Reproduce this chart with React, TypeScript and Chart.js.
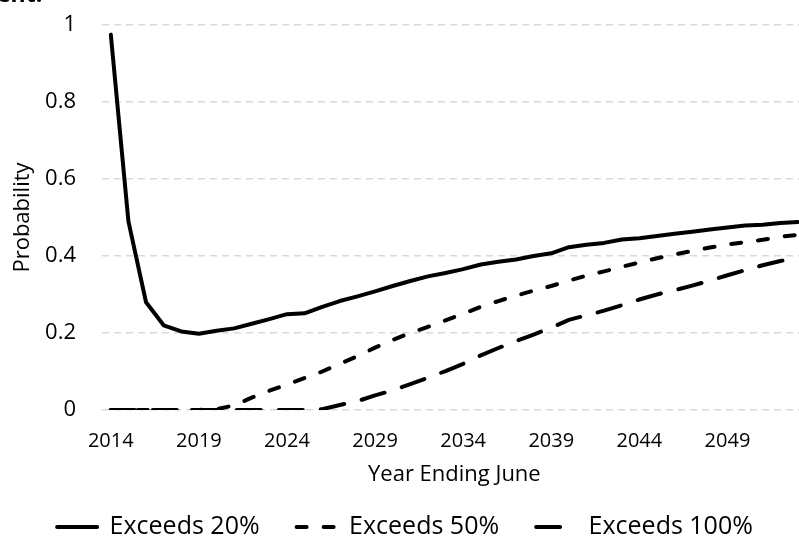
import React, { useEffect, useRef } from 'react';
import { Chart, registerables } from 'chart.js';

Chart.register(...registerables);

const years = [
  '2014', '2015', '2016', '2017', '2018', '2019', '2020', '2021', '2022', '2023',
  '2024', '2025', '2026', '2027', '2028', '2029', '2030', '2031', '2032', '2033',
  '2034', '2035', '2036', '2037', '2038', '2039', '2040', '2041', '2042', '2043',
  '2044', '2045', '2046', '2047', '2048', '2049', '2050', '2051', '2052', '2053',
];

const exceeds20 = [
  0.975, 0.49, 0.28, 0.22, 0.204, 0.198, 0.206, 0.212, 0.224, 0.236,
  0.249, 0.251, 0.268, 0.283, 0.295, 0.308, 0.322, 0.335, 0.347, 0.356,
  0.366, 0.378, 0.385, 0.391, 0.4, 0.407, 0.423, 0.429, 0.434, 0.443,
  0.446, 0.452, 0.458, 0.463, 0.469, 0.474, 0.479, 0.481, 0.486, 0.488,
];

const exceeds50 = [
  0, 0, 0, 0, 0, 0, 0.002, 0.012, 0.032, 0.05,
  0.066, 0.083, 0.1, 0.12, 0.14, 0.162, 0.182, 0.2, 0.216, 0.233,
  0.25, 0.268, 0.283, 0.297, 0.31, 0.322, 0.336, 0.349, 0.36, 0.372,
  0.383, 0.394, 0.404, 0.413, 0.422, 0.43, 0.436, 0.442, 0.45, 0.455,
];

const exceeds100 = [
  0, 0, 0, 0, 0, 0, 0, 0, 0, 0,
  0, 0, 0.002, 0.013, 0.023, 0.038, 0.051, 0.067, 0.084, 0.101,
  0.12, 0.142, 0.161, 0.179, 0.196, 0.214, 0.234, 0.246, 0.258, 0.272,
  0.287, 0.3, 0.311, 0.323, 0.336, 0.35, 0.363, 0.376, 0.387, 0.395,
];

const seriesLabels = ['Exceeds 20%', 'Exceeds 50%', 'Exceeds 100%'];
const xTitle = 'Year Ending June';
const yTitle = 'Probability';
const yMin = 0;
const yMax = 1;
const yStep = 0.2;
const labelEvery = 5;

const FONT = "'Open Sans', sans-serif";

export default function App() {
  const ref = useRef<HTMLCanvasElement | null>(null);

  useEffect(() => {
    if (!ref.current) return;
    Chart.defaults.font.family = FONT;
    const base = {
      borderColor: '#000',
      backgroundColor: '#000',
      borderWidth: 4,
      pointRadius: 0,
      pointHoverRadius: 0,
      tension: 0,
      borderJoinStyle: 'round' as const,
      borderCapStyle: 'round' as const,
      fill: false,
    };
    const chart = new Chart(ref.current, {
      type: 'line',
      data: {
        labels: years,
        datasets: [
          { ...base, label: seriesLabels[0], data: exceeds20, borderDash: [] },
          { ...base, label: seriesLabels[1], data: exceeds50, borderDash: [10, 17] },
          { ...base, label: seriesLabels[2], data: exceeds100, borderDash: [24, 18] },
        ],
      },
      options: {
        animation: false,
        responsive: false,
        devicePixelRatio: 1,
        layout: { padding: { left: 0, right: 7, top: 25, bottom: -3.5 } },
        plugins: {
          legend: {
            position: 'bottom',
            labels: {
              usePointStyle: true,
              pointStyle: 'line',
              pointStyleWidth: 40,
              padding: 37,
              color: '#000',
              font: { size: 25, family: FONT },
              generateLabels: (c: any) => {
                const items = (Chart.defaults.plugins.legend.labels as any).generateLabels(c);
                return items.map((it: any) => {
                  const ds: any = c.data.datasets[it.datasetIndex];
                  return {
                    ...it,
                    lineWidth: ds.borderWidth,
                    lineDash: ds.borderDash,
                    lineCap: ds.borderCapStyle,
                    strokeStyle: ds.borderColor,
                    fillStyle: ds.borderColor,
                    pointStyle: 'line',
                  };
                });
              },
            },
          },
          tooltip: { enabled: false },
        },
        scales: {
          x: {
            type: 'category',
            offset: true,
            grid: { display: false, drawTicks: false },
            border: { display: false },
            ticks: {
              autoSkip: false,
              maxRotation: 0,
              minRotation: 0,
              padding: 19,
              color: '#000',
              font: { size: 20, family: FONT },
              callback: (_v: any, i: number) => (i % labelEvery === 0 ? years[i] : ''),
            },
            title: {
              display: true,
              text: xTitle,
              color: '#000',
              font: { size: 22, family: FONT },
              padding: { top: 0, bottom: -10 },
            },
            afterFit: (s: any) => {
              s.height = 67.5;
            },
          },
          y: {
            min: yMin,
            max: yMax,
            ticks: {
              stepSize: yStep,
              padding: 26,
              color: '#000',
              font: { size: 22, family: FONT },
              callback: (v: any) => String(Number(Number(v).toFixed(1))),
            },
            grid: { color: '#d9d9d9', lineWidth: 1.5, drawTicks: false },
            border: { display: false, dash: [7, 5] },
            title: {
              display: true,
              text: yTitle,
              color: '#000',
              font: { size: 22, family: FONT },
              padding: { top: 10, bottom: 0 },
            },
            afterFit: (s: any) => {
              s.width = 102;
              s.paddingTop = 0;
              s.paddingBottom = 0;
            },
          },
        },
      } as any,
    });
    return () => chart.destroy();
  }, []);

  return (
    <div
      style={{
        position: 'absolute',
        left: 0,
        top: 0,
        width: 799,
        height: 546,
        overflow: 'hidden',
        background: '#fff',
      }}
    >
      <canvas
        ref={ref}
        width={817}
        height={546}
        style={{ position: 'absolute', left: 0, top: 0, width: 817, height: 546 }}
      />
      <div
        style={{
          position: 'absolute',
          left: -3,
          top: -23,
          fontFamily: FONT,
          fontWeight: 700,
          fontSize: 23,
          lineHeight: 'normal',
          whiteSpace: 'nowrap',
          color: '#000',
        }}
      >
        ent.
      </div>
    </div>
  );
}
